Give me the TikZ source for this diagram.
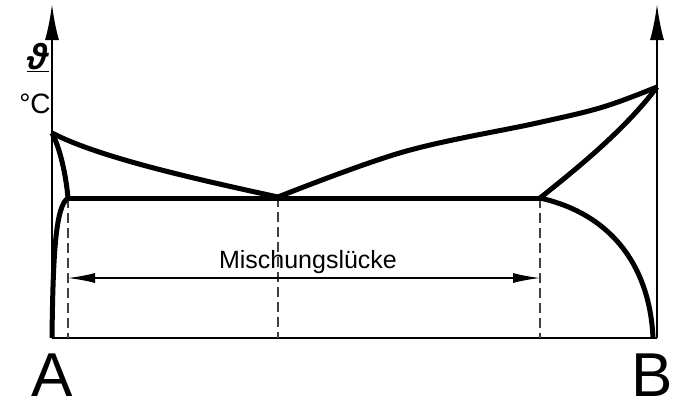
\documentclass[tikz,border=0pt]{standalone}
\usepackage{fontspec}
\setmainfont{Liberation Sans}
\usetikzlibrary{arrows.meta,positioning,calc}

\begin{document}
\begin{tikzpicture}[
  x=1pt, y=-1pt,
  axis/.style={line width=2.2pt, -{Latex[length=36pt,width=14pt]}},
  phase/.style={line width=5pt, line join=round},
  frame/.style={line width=2.2pt},
  guide/.style={line width=1.4pt, black!75, dash pattern=on 10pt off 5pt},
  dim/.style={line width=1.4pt, {Latex[length=27pt,width=10pt]}-{Latex[length=27pt,width=10pt]}},
  comp/.style={font=\fontsize{62}{62}\selectfont, inner sep=0pt},
  lbl/.style={font=\fontsize{25}{25}\selectfont, inner sep=0pt}
]
\useasboundingbox (0,0) rectangle (673,408);

% key points of the diagram (pixel grid of the sketch)
\coordinate (A0) at (52,338);
\coordinate (B0) at (657,338);
\coordinate (Atop) at (52,4);
\coordinate (Btop) at (657,4);
\coordinate (TA) at (52,133);   % melting point of A
\coordinate (TB) at (657,87);   % melting point of B
\coordinate (E)  at (278,197);  % eutectic point
\coordinate (aL) at (68,198);   % left end of the eutectic line
\coordinate (bR) at (540,198);  % right end of the eutectic line
\coordinate (aS) at (52,338);
\coordinate (bS) at (653,338);

% axes and base line
\draw[frame] (A0) -- (B0);
\draw[axis] (A0) -- (Atop);
\draw[axis] (B0) -- (Btop);

% guide lines down to the base
\draw[guide] (aL) -- (aL |- A0);
\draw[guide] (E)  -- (E |- A0);
\draw[guide] (bR) -- (bR |- A0);

% liquidus
\draw[phase] (TA) .. controls (100,158) and (200,180) .. (E);
\draw[phase] plot[smooth, tension=0.6] coordinates
  {(278,197) (403,152) (537,123) (603,107) (657,87)};
% solidus and solvus, left
\draw[phase] (TA) .. controls (60,148) and (66,175) .. (aL);
\draw[phase] (aL) .. controls (56,206) and (53,250) .. (aS);
% solidus and solvus, right
\draw[phase] (TB) .. controls (625,130) and (575,170) .. (bR);
\draw[phase] (bR) .. controls (615,215) and (650,270) .. (bS);
% eutectic line
\draw[phase] (aL) -- (bR);

% miscibility gap
\coordinate (gL) at (68,278);
\coordinate (gR) at (540,278);
\draw[dim] (gL) -- (gR);
\node[lbl, anchor=base] (gap) at (308,268) {Mischungslücke};

% component and axis labels
\node[comp, anchor=base] (compA) at (52,396) {A};
\node[comp, anchor=base east] (compB) at (673,396) {B};
\node[lbl, anchor=base, font=\fontsize{36}{36}\selectfont\bfseries] (temp) at (38,69) {\underline{\itshape ϑ}};
\node[lbl, anchor=base, font=\fontsize{28}{28}\selectfont] (unit) at (35,113) {°C};
\end{tikzpicture}
\end{document}
